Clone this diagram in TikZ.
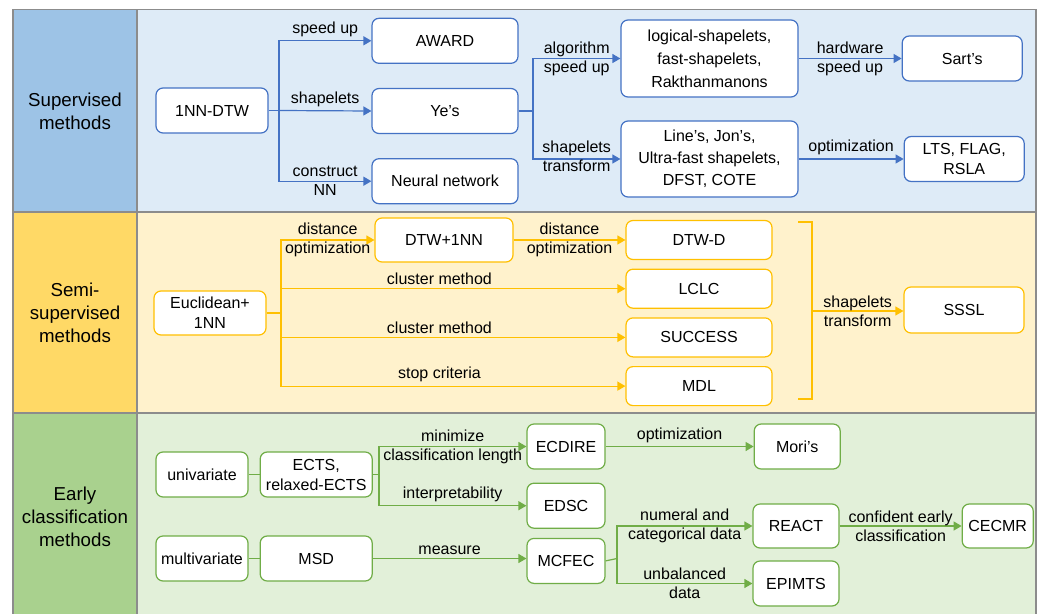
\documentclass[tikz,border=0pt]{standalone}
\usepackage{fontspec}
\setmainfont{Liberation Sans}
\usetikzlibrary{arrows.meta, positioning, calc}
\definecolor{lineblue}{HTML}{4472C4}
\definecolor{colblue}{HTML}{9DC3E6}
\definecolor{bgblue}{HTML}{DEEBF7}
\definecolor{lineyellow}{HTML}{FFC000}
\definecolor{colyellow}{HTML}{FFD966}
\definecolor{bgyellow}{HTML}{FFF2CC}
\definecolor{linegreen}{HTML}{70AD47}
\definecolor{colgreen}{HTML}{A9D18E}
\definecolor{bggreen}{HTML}{E2F0D9}
\definecolor{framegray}{HTML}{8C8C8C}

\begin{document}
\begin{tikzpicture}[x=1pt, y=-1pt,
  base/.style={rectangle, rounded corners=7pt, fill=white, line width=1.2pt, inner sep=0pt, minimum height=45pt, align=center, font=\fontsize{16}{20}\selectfont},
  bbox/.style={base, draw=lineblue},
  ybox/.style={base, draw=lineyellow, minimum height=39pt},
  gbox/.style={base, draw=linegreen},
  lbl/.style={inner sep=3.5pt, align=center, text=black, font=\fontsize{16}{19}\selectfont},
  head/.style={align=center, font=\fontsize{18.7}{23}\selectfont},
  frame/.style={draw=framegray, line width=1.6pt},
  barr/.style={-{Triangle[length=8pt, width=9pt]}, line width=1.2pt, lineblue},
  bline/.style={line width=1.2pt, lineblue},
  yarr/.style={-{Triangle[length=8pt, width=9pt]}, line width=1.2pt, lineyellow},
  yline/.style={line width=1.2pt, lineyellow},
  garr/.style={-{Triangle[length=8pt, width=9pt]}, line width=1.2pt, linegreen},
  gline/.style={line width=1.2pt, linegreen}
]
\useasboundingbox (0,0) rectangle (1040,613);
% bands
\fill[colblue] (13,9.5) rectangle (137,212);
\fill[bgblue] (137,9.5) rectangle (1036,212);
\fill[colyellow] (13,212) rectangle (137,413);
\fill[bgyellow] (137,212) rectangle (1036,413);
\fill[colgreen] (13,413) rectangle (137,620);
\fill[bggreen] (137,413) rectangle (1036,620);
\draw[frame] (13,9.5) rectangle (1036,620);
\draw[frame] (137,9.5) -- (137,620);
\draw[frame] (13,212) -- (1036,212);
\draw[frame] (13,413) -- (1036,413);

% supervised
\node[head] (supv) at (75,111) {Supervised\\methods};
\node[bbox, minimum width=112pt] (dtw) at (212,110.5) {1NN-DTW};
\node[bbox, minimum width=146pt] (yes) at (445,111) {Ye’s};
\node[bbox, minimum width=146pt, above=24pt of yes] (award) {AWARD};
\node[bbox, minimum width=146pt, below=24pt of yes] (nn) {Neural network};
\node[bbox, minimum width=177pt, minimum height=77pt, font=\fontsize{16}{23}\selectfont] (logic) at (709.5,58.5) {logical-shapelets,\\fast-shapelets,\\Rakthanmanons};
\node[bbox, minimum width=177pt, minimum height=76pt, font=\fontsize{16}{22}\selectfont] (lines) at (709.5,159) {Line’s, Jon’s,\\Ultra-fast shapelets,\\DFST, COTE};
\node[bbox, minimum width=120pt, right=103pt of logic] (sart) {Sart’s};
\node[bbox, minimum width=120pt, right=105pt of lines] (lts) {LTS, FLAG,\\RSLA};

\coordinate (j1) at (279,110.5);
\coordinate (j2) at (533,111);
\draw[bline] (dtw.east) -- (j1);
\draw[barr] (j1) |- (award.west) node[lbl, pos=0.75, above] {speed up};
\draw[barr] (j1) -- (yes.west) node[lbl, midway, above] {shapelets};
\draw[barr] (j1) |- (nn.west) node[lbl, pos=0.75] {construct\\NN};
\draw[bline] (yes.east) -- (j2);
\draw[barr] (j2) |- (logic.west) node[lbl, pos=0.75] {algorithm\\speed up};
\draw[barr] (j2) |- (lines.west) node[lbl, pos=0.75, yshift=3pt] {shapelets\\transform};
\draw[barr] (logic) -- (sart) node[lbl, midway] {hardware\\speed up};
\draw[barr] (lines) -- (lts) node[lbl, midway, above] {optimization};

% semi-supervised
\node[head] (semi) at (75,313) {Semi-\\supervised\\methods};
\node[ybox, minimum width=112pt, minimum height=44pt] (euc) at (210,313) {Euclidean+\\1NN};
\node[ybox, minimum width=138pt, minimum height=44pt] (dtwnn) at (444,240) {DTW+1NN};
\node[ybox, minimum width=146pt] (dtwd) at (699,240) {DTW-D};
\node[ybox, minimum width=146pt, below=8.5pt of dtwd] (lclc) {LCLC};
\node[ybox, minimum width=146pt, below=8.5pt of lclc] (success) {SUCCESS};
\node[ybox, minimum width=146pt, below=8.5pt of success] (mdl) {MDL};
\node[ybox, minimum width=120pt, minimum height=46pt] (sssl) at (964,310) {SSSL};

\coordinate (j3) at (281,313);
\coordinate (brk) at (812,311);
\draw[yline] (euc.east) -- (j3);
\draw[yarr] (j3) |- (dtwnn.west) node[lbl, pos=0.75] {distance\\optimization};
\draw[yarr] (j3) |- (lclc.west) node[lbl, pos=0.73, above] {cluster method};
\draw[yarr] (j3) |- (success.west) node[lbl, pos=0.73, above] {cluster method};
\draw[yarr] (j3) |- (mdl.west) node[lbl, pos=0.73, above] {stop criteria};
\draw[yarr] (dtwnn) -- (dtwd) node[lbl, midway] {distance\\optimization};
\draw[yline] (798,222) -- (812,222) -- (812,399) -- (798,399);
\draw[yarr] (brk) -- (brk -| sssl.west) node[lbl, midway] {shapelets\\transform};

% early classification
\node[head] (early) at (75,517) {Early\\classification\\methods};
\node[gbox, minimum width=92pt] (uni) at (202,474.5) {univariate};
\node[gbox, minimum width=112pt, right=11pt of uni] (ects) {ECTS,\\relaxed-ECTS};
\node[gbox, minimum width=92pt] (multi) at (202,558.5) {multivariate};
\node[gbox, minimum width=112pt, right=11pt of multi] (msd) {MSD};
\node[gbox, minimum width=78pt] (ecdire) at (566,446.5) {ECDIRE};
\node[gbox, minimum width=78pt, below=13pt of ecdire] (edsc) {EDSC};
\node[gbox, minimum width=78pt, below=9pt of edsc] (mcfec) {MCFEC};
\node[gbox, minimum width=86pt, right=148pt of ecdire] (mori) {Mori’s};
\node[gbox, minimum width=86pt, minimum height=44pt] (react) at (796,526) {REACT};
\node[gbox, minimum width=86pt] (epimts) at (796,583.5) {EPIMTS};
\node[gbox, minimum width=71pt, minimum height=44pt, right=122pt of react] (cecmr) {CECMR};

\coordinate (j4) at (379,474.5);
\coordinate (j5) at (617,558.5);
\draw[gline] (uni) -- (ects);
\draw[gline] (multi) -- (msd);
\draw[gline] (ects.east) -- (j4);
\draw[garr] (j4) |- (ecdire.west) node[lbl, pos=0.75] {minimize\\classification length};
\draw[garr] (j4) |- (edsc.west) node[lbl, pos=0.75, above] {interpretability};
\draw[garr] (msd.east) -- (msd.east -| mcfec.west) node[lbl, midway, above] {measure};
\draw[garr] (ecdire) -- (mori) node[lbl, midway, above] {optimization};
\draw[gline] (mcfec.east) -- (j5);
\draw[garr] (j5) |- (react.west) node[lbl, pos=0.75] {numeral and\\categorical data};
\draw[garr] (j5) |- (epimts.west) node[lbl, pos=0.75] {unbalanced\\data};
\draw[garr] (react) -- (cecmr) node[lbl, midway] {confident early\\classification};
\end{tikzpicture}
\end{document}
